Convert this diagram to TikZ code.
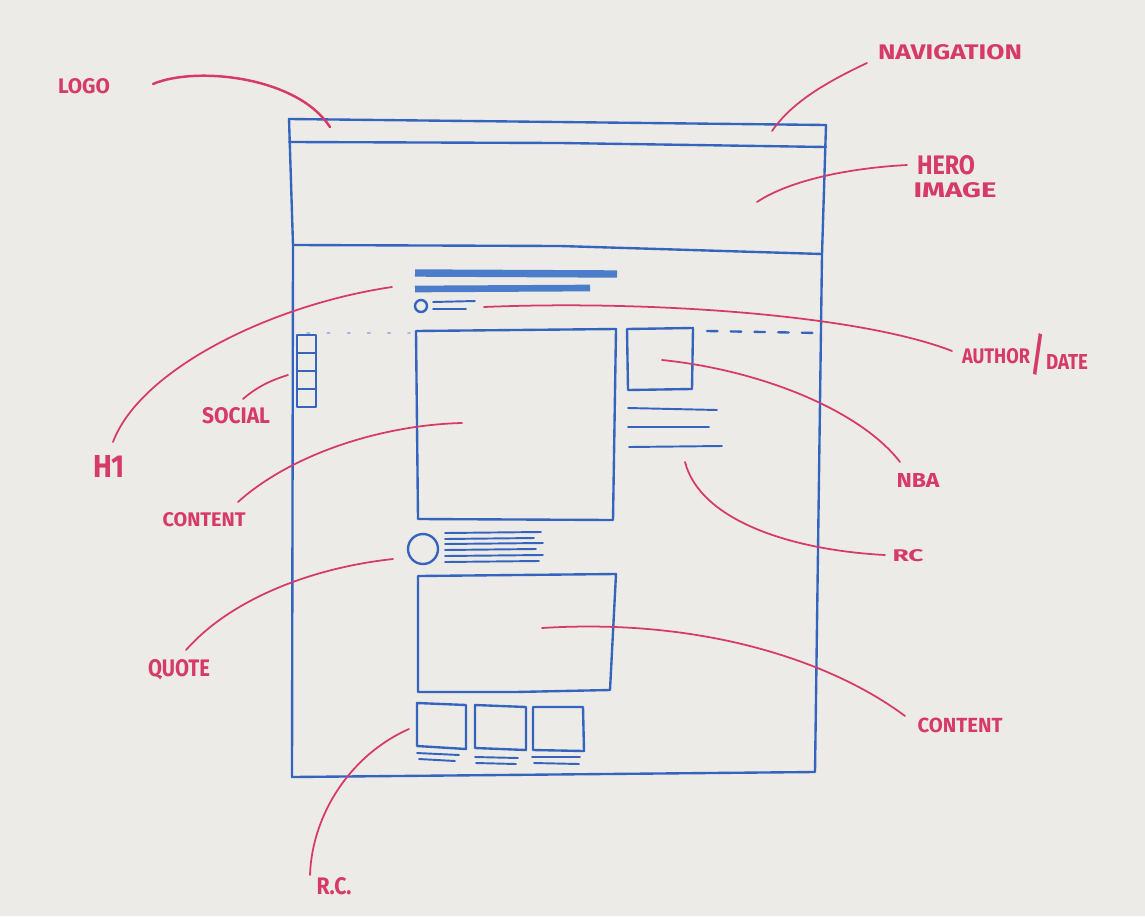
\documentclass[tikz,border=0pt]{standalone}
\usepackage{fontspec}
\setmainfont{Fira Sans}
\usepackage{graphicx}
\definecolor{board}{HTML}{ECEBE7}
\definecolor{mblue}{HTML}{3564BF}
\definecolor{lblue}{HTML}{4C7DCB}
\definecolor{mred}{HTML}{D63A66}
\begin{document}
\begin{tikzpicture}[x=0.02cm,y=-0.02cm,line cap=round,line join=round]
\tikzset{
  bluepen/.style={draw=mblue,line width=1.35pt},
  thinpen/.style={draw=mblue,line width=1.1pt},
  h1bar/.style={draw=lblue,line width=4.2pt,line cap=butt},
  redline/.style={draw=mred,line width=1pt},
  lbl/.style={text=mred,inner sep=0pt,outer sep=0pt,font=\bfseries}
}
% board
\fill[board] (0,0) rectangle (1145,916);
\useasboundingbox (0,0) rectangle (1145,916);

% ---------------- wireframe ----------------
\draw[bluepen] (289,119) -- (826,125) -- (822,254) -- (815,772) -- (292,777) -- (293,245) -- cycle;
\draw[bluepen] (289,142) -- (560,143) -- (826,147);
\draw[bluepen] (293,245) -- (560,246) -- (822,254);

% H1 bars
\draw[h1bar] (415,273) -- (617,274);
\draw[h1bar,line width=3.8pt] (415,289) -- (590,288);
% author / date
\draw[bluepen] (421,306) circle (6);
\draw[thinpen] (433,302) -- (475,301);
\draw[thinpen] (433,309) -- (466,309);

% fold line
\draw[mblue!45,line width=0.9pt,dash pattern=on 1.5pt off 10pt] (307,333) -- (410,333);
\draw[bluepen,dash pattern=on 6pt off 7.5pt] (707,331) -- (818,333);

% social
\draw[thinpen] (297,335) rectangle (316,407);
\draw[thinpen] (297,353) -- (316,353);
\draw[thinpen] (297,371) -- (316,371);
\draw[thinpen] (297,389) -- (316,389);

% content 1
\draw[bluepen] (416,331) -- (616,329) -- (613,520) -- (418,519) -- cycle;
% NBA
\draw[bluepen] (627,329) -- (693,328) -- (692,389) -- (628,390) -- cycle;
% RC lines
\draw[thinpen] (628,408) -- (717,410);
\draw[thinpen] (628,427) -- (709,427);
\draw[thinpen] (629,447) -- (722,446);

% quote
\draw[bluepen] (423,549) circle (15);
\foreach \yy/\xe in {533/541,539/534,544/543,550/536,556/543,562/539}
  \draw[thinpen] (445,\yy) -- (\xe,\yy-1);

% content 2
\draw[bluepen] (418,576) -- (616,574) -- (610,690) -- (515,692) -- (418,692) -- cycle;

% RC thumbnails
\draw[bluepen] (417,703) -- (466,705) -- (466,749) -- (417,746) -- cycle;
\draw[bluepen] (475,705) -- (526,707) -- (526,750) -- (475,748) -- cycle;
\draw[bluepen] (533,707) -- (583,707) -- (584,751) -- (533,750) -- cycle;
\draw[thinpen] (417,753) -- (459,755);
\draw[thinpen] (419,759) -- (455,761);
\draw[thinpen] (475,757) -- (518,758);
\draw[thinpen] (476,763) -- (516,764);
\draw[thinpen] (532,757) -- (580,757);
\draw[thinpen] (534,763) -- (579,764);

% ---------------- labels ----------------
\node[lbl] (logo) at (84,86) {\resizebox{1.04cm}{0.30cm}{LOGO}};
\node[lbl] (nav) at (950,52) {\resizebox{2.88cm}{0.30cm}{NAVIGATION}};
\node[lbl] (hero) at (946,165) {\resizebox{1.16cm}{0.38cm}{HERO}};
\node[lbl] (image) at (955,190) {\resizebox{1.66cm}{0.30cm}{IMAGE}};
\node[lbl] (author) at (996,356) {\resizebox{1.36cm}{0.30cm}{AUTHOR}};
\node[lbl] (slash) at (1038,355) {\resizebox{0.26cm}{0.74cm}{/}};
\node[lbl] (date) at (1067,362) {\resizebox{0.84cm}{0.30cm}{DATE}};
\node[lbl] (nba) at (918,480) {\resizebox{0.86cm}{0.28cm}{NBA}};
\node[lbl] (rc) at (908,556) {\resizebox{0.62cm}{0.24cm}{RC}};
\node[lbl] (h1) at (109,466) {\resizebox{0.64cm}{0.44cm}{H1}};
\node[lbl] (social) at (236,416) {\resizebox{1.36cm}{0.32cm}{SOCIAL}};
\node[lbl] (contentl) at (204,520) {\resizebox{1.66cm}{0.28cm}{CONTENT}};
\node[lbl] (quote) at (179,670) {\resizebox{1.24cm}{0.34cm}{QUOTE}};
\node[lbl] (contentr) at (960,725) {\resizebox{1.70cm}{0.29cm}{CONTENT}};
\node[lbl] (rcb) at (334,886) {\resizebox{0.70cm}{0.34cm}{R.C.}};

% ---------------- pointers ----------------
\coordinate (logoS) at (153,84);   \coordinate (logoE) at (330,127);
\coordinate (navS) at (867,63);    \coordinate (navE) at (772,131);
\coordinate (heroS) at (907,165);  \coordinate (heroE) at (757,202);
\coordinate (authS) at (952,351);  \coordinate (authE) at (484,307);
\coordinate (nbaS) at (900,462);   \coordinate (nbaE) at (662,360);
\coordinate (rcS) at (885,555);    \coordinate (rcE) at (685,462);
\coordinate (h1S) at (113,442);    \coordinate (h1E) at (392,287);
\coordinate (socS) at (243,399);   \coordinate (socE) at (288,375);
\coordinate (conlS) at (238,502);  \coordinate (conlE) at (462,423);
\coordinate (quoS) at (186,650);   \coordinate (quoE) at (393,559);
\coordinate (conrS) at (905,716);  \coordinate (conrE) at (542,628);
\coordinate (rcbS) at (310,875);   \coordinate (rcbE) at (409,729);

\draw[redline,line width=1.4pt] (logoS) .. controls (195,66) and (297,76) .. (logoE);
\draw[redline] (navS) .. controls (820,85) and (790,105) .. (navE);
\draw[redline] (heroS) .. controls (850,168) and (790,180) .. (heroE);
\draw[redline] (authS) .. controls (860,315) and (650,300) .. (authE);
\draw[redline] (nbaS) .. controls (860,410) and (760,370) .. (nbaE);
\draw[redline] (rcS) .. controls (790,550) and (700,520) .. (rcE);
\draw[redline] (h1S) .. controls (140,370) and (270,305) .. (h1E);
\draw[redline] (socS) .. controls (258,386) and (272,380) .. (socE);
\draw[redline] (conlS) .. controls (290,455) and (380,425) .. (conlE);
\draw[redline] (quoS) .. controls (230,600) and (310,568) .. (quoE);
\draw[redline] (conrS) .. controls (830,660) and (700,618) .. (conrE);
\draw[redline] (rcbS) .. controls (312,815) and (350,755) .. (rcbE);
\end{tikzpicture}
\end{document}
